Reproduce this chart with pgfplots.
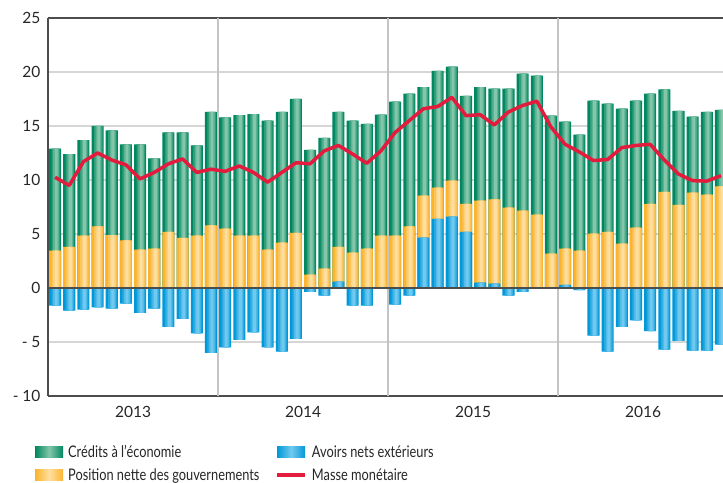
\documentclass[border=0pt]{standalone}
\usepackage{fontspec}
\setmainfont{Lato}
\newfontfamily\legfont{Lato}[FakeStretch=0.8]
\usepackage{pgfplots}
\usepackage{pgfplotstable}
\pgfplotsset{compat=1.18}
\usetikzlibrary{calc}

\definecolor{gD}{HTML}{00875F}
\definecolor{gL}{HTML}{84C6AA}
\definecolor{yD}{HTML}{FBB42E}
\definecolor{yL}{HTML}{FEDFA0}
\definecolor{bD}{HTML}{0098D8}
\definecolor{bL}{HTML}{72C9EF}
\definecolor{rL}{HTML}{E31B3D}
\definecolor{gridc}{HTML}{D6D6D6}
\definecolor{vgridc}{HTML}{C4C4C4}
\definecolor{axc}{HTML}{4D4D4D}

\pgfplotsset{
  swatch/.style={legend image code/.code={\path[##1, draw=none] (0pt,-5.5pt) rectangle (28pt,5.5pt);}},
  lineswatch/.style={legend image code/.code={\draw[##1] (0pt,0pt) -- (28pt,0pt);}},
}

% one series of bars, drawn in four layers so that each bar gets its own light stripe
\newcommand\barlayers[3]{%
\addplot[ybar, bar shift=0pt, bar width=0.85, fill=#2, draw=none, forget plot] table[x=x, y expr={#1}]{\data};
\addplot[ybar, bar shift=0.05, bar width=0.6, fill=#3!35!#2, draw=none, forget plot] table[x=x, y expr={#1}]{\data};
\addplot[ybar, bar shift=0.07, bar width=0.4, fill=#3!70!#2, draw=none, forget plot] table[x=x, y expr={#1}]{\data};
\addplot[ybar, bar shift=0.08, bar width=0.2, fill=#3, draw=none, forget plot] table[x=x, y expr={#1}]{\data};
}

\pgfplotstableread{
x bpos pos cred bneg m
0 0 3.46 9.44 -1.64 10.25
1 0 3.8 8.6 -2.1 9.5
2 0 4.85 8.85 -2.0 11.7
3 0 5.7 9.3 -1.8 12.5
4 0 4.9 9.7 -1.9 11.85
5 0 4.4 8.9 -1.45 11.4
6 0 3.55 9.75 -2.3 10.1
7 0 3.65 8.35 -1.9 10.7
8 0 5.2 9.2 -3.6 11.5
9 0 4.65 9.75 -2.85 11.95
10 0 4.85 8.35 -4.2 10.7
11 0 5.8 10.5 -6.0 11.0
12 0 5.5 10.3 -5.5 10.8
13 0 4.85 11.15 -4.8 11.3
14 0 4.85 11.25 -4.1 10.7
15 0 3.55 11.95 -5.5 9.8
16 0 4.2 12.1 -5.9 10.7
17 0 5.1 12.4 -4.7 11.6
18 0 1.23 11.57 -0.35 11.5
19 0 1.8 12.1 -0.7 12.7
20 0.6 3.2 12.5 0 13.2
21 0 3.27 12.23 -1.64 12.4
22 0 3.64 11.56 -1.64 11.55
23 0.05 4.8 11.2 0 12.7
24 0 4.85 12.4 -1.54 14.4
25 0 5.7 12.3 -0.7 15.5
26 4.66 3.89 10.05 0 16.6
27 6.4 2.9 10.8 0 16.8
28 6.6 3.34 10.56 0 17.65
29 5.2 2.6 10.0 0 15.96
30 0.5 7.6 10.5 0 16.05
31 0.4 7.8 10.25 0 15.1
32 0 7.44 11.01 -0.7 16.3
33 0 7.16 12.69 -0.35 16.9
34 0 6.8 12.86 -0.05 17.3
35 0.05 3.13 12.78 0 14.9
36 0.3 3.34 11.76 0 13.3
37 0 3.46 10.74 -0.2 12.6
38 0 5.03 12.32 -4.4 11.8
39 0 5.2 11.87 -5.9 11.9
40 0 4.1 12.5 -3.6 13.0
41 0 5.6 11.75 -3.0 13.2
42 0 7.8 10.2 -4.0 13.3
43 0 8.9 9.5 -5.7 11.85
44 0 7.7 8.7 -4.9 10.55
45 0 8.83 7.03 -5.8 9.94
46 0 8.64 7.66 -5.8 9.9
47 0 9.4 7.1 -5.25 10.4
}\data

\begin{document}
\begin{tikzpicture}
\begin{axis}[name=ax, scale only axis, width=675pt, height=378pt,
  xmin=-0.5, xmax=47.14, ymin=-10, ymax=25,
  axis x line*=box, axis y line*=left,
  axis line style={-, draw=axc, line width=1.3pt},
  ytick={-10,-5,0,5,10,15,20,25},
  yticklabels={- 10,- 5,0,5,10,15,20,25},
  xtick={5.5,17.5,29.5,41.5},
  xticklabels={2013,2014,2015,2016},
  major tick length=0pt,
  ymajorgrids, major grid style={draw=gridc, line width=1.6pt},
  extra x ticks={11.5,23.5,35.5}, extra x tick labels={},
  extra x tick style={grid=major, major grid style={draw=vgridc, line width=1.2pt}},
  ticklabel style={font=\fontsize{15.5}{18}\selectfont, text=black!85},
  yticklabel style={xshift=-4pt},
  xticklabel style={yshift=-7pt},
  legend columns=2,
  legend cell align=left,
  legend style={at={(rel axis cs:-0.0237,-0.12)}, anchor=north west, draw=none, fill=none,
    font=\legfont\fontsize{16}{18}\selectfont, text=black!85,
    /tikz/every odd column/.append style={column sep=3pt},
    /tikz/every even column/.append style={column sep=14pt},
    row sep=5pt},
]
% Crédits (top of the stack), Position nette, Avoirs > 0, Avoirs < 0
\barlayers{\thisrow{bpos}+\thisrow{pos}+\thisrow{cred}}{gD}{gL}
\barlayers{\thisrow{bpos}+\thisrow{pos}}{yD}{yL}
\barlayers{\thisrow{bpos}}{bD}{bL}
\barlayers{\thisrow{bneg}}{bD}{bL}
\draw[axc, line width=2pt] (axis cs:-0.5,0) -- (axis cs:47.14,0);
\addplot[rL, line width=3.5pt, line join=round, mark=none, forget plot] table[x=x,y=m]{\data};
\addlegendimage{swatch, left color=gD, right color=gD, middle color=gL}
\addlegendentry{Crédits à l’économie}
\addlegendimage{swatch, left color=bD, right color=bD, middle color=bL}
\addlegendentry{Avoirs nets extérieurs}
\addlegendimage{swatch, left color=yD, right color=yD, middle color=yL}
\addlegendentry{Position nette des gouvernements}
\addlegendimage{lineswatch, rL, line width=3.5pt}
\addlegendentry{Masse monétaire}
\end{axis}
\pgfresetboundingbox
\path ($(ax.south west)+(-48pt,-87pt)$) rectangle ($(ax.north east)+(0pt,18pt)$);
\end{tikzpicture}
\end{document}
